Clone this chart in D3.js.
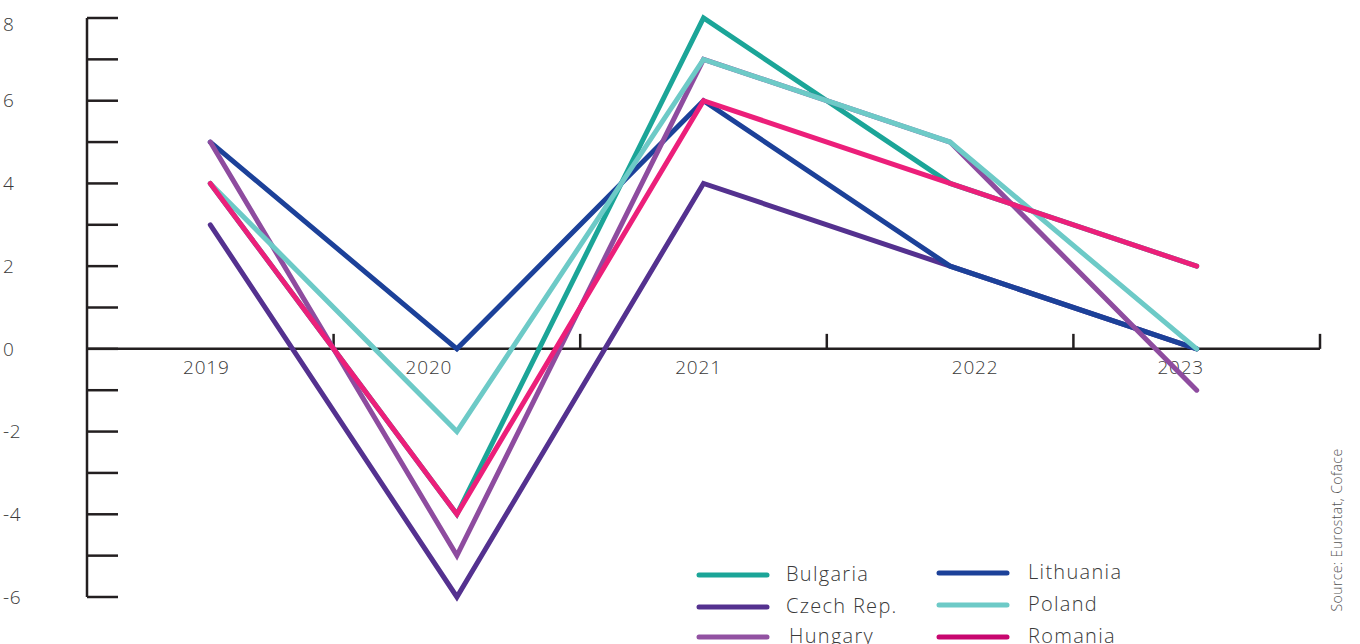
<!DOCTYPE html>
<html>
<head>
<meta charset="utf-8">
<script src="https://cdn.jsdelivr.net/npm/d3@7"></script>
<style>
  body { margin: 0; background: #fff; }
  svg { display: block; font-family: "Open Sans", "Noto Sans", sans-serif; }
</style>
</head>
<body>
<svg id="chart" width="1360" height="644"></svg>
<script>
// GDP growth, %
const years = ["2019", "2020", "2021", "2022", "2023"];
const yTicks = [-6, -5, -4, -3, -2, -1, 0, 1, 2, 3, 4, 5, 6, 7, 8];
const yLabels = [-6, -4, -2, 0, 2, 4, 6, 8];

const countries = ["Bulgaria", "Czech Rep.", "Hungary", "Lithuania", "Poland", "Romania"];
const bulgaria  = [4, -4, 8, 4, 2];
const czech     = [3, -6, 4, 2, 0];
const hungary   = [5, -5, 7, 5, -1];
const lithuania = [5, 0, 6, 2, 0];
const poland    = [4, -2, 7, 5, 0];
const romania   = [4, -4, 6, 4, 2];

const lineColors   = ["#1ba598", "#54318f", "#8e4c9f", "#1c4199", "#6dcac7", "#ec1f7a"];
const legendColors = ["#1ba598", "#54318f", "#9252a2", "#1c4199", "#6dcac7", "#c8066f"];

const series = [bulgaria, czech, hungary, lithuania, poland, romania];
// drawing order (later on top)
const drawOrder = [1, 0, 3, 2, 4, 5];

// small horizontal nudges of the year labels, as in the original artwork
const labelNudge = [-4, -28, -5, 25, -16];

const svg = d3.select("#chart");

const x = d3.scaleBand().domain(years).range([87, 1320]);
const y = d3.scaleLinear().domain([-6, 8]).range([597, 18]);

const axisColor = "#231f20";
const textColor = "#3a3a3a";

// y axis
const yAxis = svg.append("g");
yAxis.append("line")
  .attr("x1", 87).attr("x2", 87)
  .attr("y1", y(8)).attr("y2", y(-6))
  .attr("stroke", axisColor).attr("stroke-width", 2.5);

yAxis.selectAll(".ytick")
  .data(yTicks)
  .enter()
  .append("line")
    .attr("x1", 87).attr("x2", 118)
    .attr("y1", d => y(d)).attr("y2", d => y(d))
    .attr("stroke", axisColor).attr("stroke-width", 2.5);

yAxis.selectAll(".ylabel")
  .data(yLabels)
  .enter()
  .append("text")
    .attr("x", 3)
    .attr("y", d => d == 8 ? y(d) + 6 : y(d))
    .attr("dy", "0.35em")
    .attr("fill", textColor)
    .attr("font-size", 19)
    .attr("font-weight", 300)
    .attr("letter-spacing", 0.6)
    .text(d => d);

// x axis
const xAxis = svg.append("g");
xAxis.append("line")
  .attr("x1", 87).attr("x2", 1320)
  .attr("y1", y(0)).attr("y2", y(0))
  .attr("stroke", axisColor).attr("stroke-width", 2.5);

xAxis.selectAll(".xtick")
  .data(years)
  .enter()
  .append("line")
    .attr("x1", d => x(d) + x.bandwidth())
    .attr("x2", d => x(d) + x.bandwidth())
    .attr("y1", y(0) - 15).attr("y2", y(0))
    .attr("stroke", axisColor).attr("stroke-width", 2.5);

xAxis.selectAll(".xlabel")
  .data(years)
  .enter()
  .append("text")
    .attr("x", (d, i) => x(d) + x.bandwidth() / 2 + labelNudge[i])
    .attr("y", y(0) + 25)
    .attr("text-anchor", "middle")
    .attr("fill", textColor)
    .attr("font-size", 19)
    .attr("font-weight", 300)
    .attr("letter-spacing", 0.8)
    .text(d => d);

// lines
const line = d3.line()
  .x((d, i) => x(years[i]) + x.bandwidth() / 2)
  .y(d => y(d));

svg.append("g")
  .selectAll("path")
  .data(drawOrder)
  .enter()
  .append("path")
    .attr("d", i => line(series[i]))
    .attr("fill", "none")
    .attr("stroke", i => lineColors[i])
    .attr("stroke-width", 5)
    .attr("stroke-linejoin", "miter")
    .attr("stroke-linecap", "round");

// legend
const legendPos = [
  {lx: 699, ly: 575, tx: 786, ty: 581},
  {lx: 699, ly: 607, tx: 786, ty: 613},
  {lx: 699, ly: 637, tx: 789, ty: 643},
  {lx: 939, ly: 573, tx: 1028, ty: 579},
  {lx: 939, ly: 605, tx: 1028, ty: 611},
  {lx: 939, ly: 637, tx: 1028, ty: 643}
];

const legend = svg.append("g")
  .selectAll("g")
  .data(countries)
  .enter()
  .append("g");

legend.append("line")
  .attr("x1", (d, i) => legendPos[i].lx)
  .attr("x2", (d, i) => legendPos[i].lx + 68)
  .attr("y1", (d, i) => legendPos[i].ly)
  .attr("y2", (d, i) => legendPos[i].ly)
  .attr("stroke", (d, i) => legendColors[i])
  .attr("stroke-width", 5)
  .attr("stroke-linecap", "round");

legend.append("text")
  .attr("x", (d, i) => legendPos[i].tx)
  .attr("y", (d, i) => legendPos[i].ty)
  .attr("fill", textColor)
  .attr("font-size", 20)
  .attr("font-weight", 300)
  .attr("letter-spacing", 1.3)
  .text(d => d);

// source
svg.append("text")
  .attr("transform", "translate(1342, 530) rotate(-90)")
  .attr("text-anchor", "middle")
  .attr("fill", "#555")
  .attr("font-size", 14)
  .attr("font-weight", 300)
  .attr("letter-spacing", 0.4)
  .text("Source: Eurostat, Coface");
</script>
</body>
</html>
